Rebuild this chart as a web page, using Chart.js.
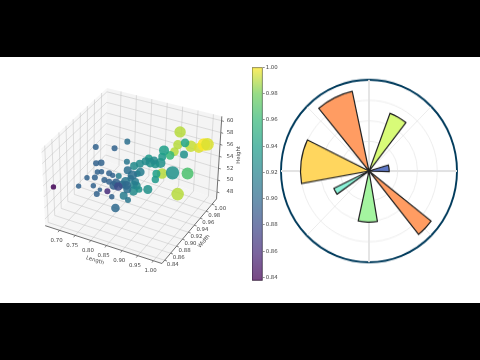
<!DOCTYPE html>
<html>
<head>
<meta charset="utf-8">
<title>Cars</title>
<script src="https://cdn.jsdelivr.net/npm/chart.js@4"></script>
<style>
  html, body { margin: 0; padding: 0; background: #000; width: 480px; height: 360px; overflow: hidden; }
  #band { position: absolute; left: 0; top: 57px; width: 480px; height: 246px; background: #fff; }
  #boxWrap { position: absolute; left: 0; top: 57px; width: 250px; height: 246px; }
  #barWrap { position: absolute; left: 245px; top: 60px; width: 40px; height: 225px; }
  #polarWrap { position: absolute; left: 274px; top: 76px; width: 190px; height: 190px; transform: scaleY(1.037); }
  canvas { filter: blur(0.35px); }
</style>
</head>
<body>
<div id="band"></div>
<div id="boxWrap"><canvas id="boxChart" width="250" height="246"></canvas></div>
<div id="barWrap"><canvas id="barChart" width="40" height="225"></canvas></div>
<div id="polarWrap"><canvas id="polarChart" width="190" height="190"></canvas></div>
<script>
const carLength = [0.676, 0.696, 0.723, 0.751, 0.809, 0.838, 0.752, 0.768, 0.756, 0.769, 0.793, 0.804, 0.803, 0.748, 0.743, 0.778, 0.793, 0.815, 0.764, 0.754, 0.823, 0.802, 0.809, 0.839, 0.82, 0.837, 0.808, 0.833, 0.841, 0.856, 0.857, 0.871, 0.841, 0.859, 0.877, 0.887, 0.877, 0.903, 0.919, 0.903, 0.919, 0.919, 0.898, 0.9, 0.868, 0.882, 0.854, 0.841, 0.846, 0.83, 0.846, 0.856, 0.825, 0.841, 0.92, 0.979, 0.915, 0.955, 0.989, 0.978, 1.005, 0.905, 0.921, 0.991, 0.958, 0.972, 0.922, 0.851, 0.843];
const carWidth = [0.84, 0.895, 0.895, 0.895, 0.895, 0.905, 0.895, 0.895, 0.895, 0.895, 0.895, 0.895, 0.915, 0.895, 0.895, 0.895, 0.895, 0.895, 0.895, 0.895, 0.86, 0.895, 0.9, 0.91, 0.915, 0.88, 0.895, 0.91, 0.905, 0.905, 0.92, 0.915, 0.925, 0.925, 0.925, 0.93, 0.935, 0.93, 0.93, 0.925, 0.94, 0.935, 0.94, 0.935, 0.99, 0.93, 0.93, 0.925, 0.92, 0.91, 0.91, 0.915, 0.905, 0.905, 0.99, 0.945, 0.99, 0.992, 1.0, 0.995, 0.995, 0.99, 0.959, 0.93, 0.93, 0.967, 0.99, 0.925, 0.9];
const carHeight = [53.59, 50.68, 52.64, 58.55, 59.12, 60.09, 55.68, 56.01, 54.19, 54.43, 54.52, 54.33, 53.03, 53.1, 51.52, 53.11, 53.06, 53.21, 51.17, 50.27, 53.92, 50.57, 48.43, 49.71, 49.83, 53.79, 52.64, 56.24, 55.17, 54.56, 53.95, 54.74, 54.77, 55.42, 56.12, 55.7, 56.05, 55.67, 56.14, 56.59, 57.7, 56.91, 53.39, 52.75, 50.0, 51.04, 50.58, 50.39, 51.86, 52.78, 53.57, 52.86, 52.46, 51.89, 58.05, 59.5, 55.75, 55.98, 56.31, 55.82, 56.84, 54.42, 55.81, 58.55, 55.03, 53.04, 47.34, 51.49, 52.9];
const carPower = [77, 77, 77, 86, 86, 86, 86, 94, 77, 77, 86, 77, 86, 86, 77, 86, 86, 123, 66, 86, 86, 77, 123, 86, 114, 123, 123, 86, 114, 134, 94, 123, 114, 114, 114, 134, 106, 114, 143, 114, 143, 114, 114, 106, 151, 129, 94, 129, 114, 129, 94, 106, 114, 114, 163, 123, 134, 163, 180, 143, 180, 123, 123, 114, 191, 171, 180, 114, 123];

const lengthTicks = [0.70, 0.75, 0.80, 0.85, 0.90, 0.95, 1.00];
const widthTicks = [0.84, 0.86, 0.88, 0.90, 0.92, 0.94, 0.96, 0.98, 1.00];
const heightTicks = [48, 50, 52, 54, 56, 58, 60];
const colorbarTicks = [0.84, 0.86, 0.88, 0.90, 0.92, 0.94, 0.96, 0.98, 1.00];

const sectorNames = ['', 'A', '', 'B', '', 'C', '', 'D', '', 'E', '', 'F', '', 'G', ''];
const sectorValues = [0, 6.02, 0, 2.04, 0, 7.96, 0, 4.99, 0, 3.94, 0, 6.93, 0, 7.95, 0];
const sectorAngles = [20.7, 17.6, 35, 18.7, 35.8, 13.1, 29.3, 22.4, 42.4, 9.5, 15.4, 36.1, 24.3, 27.4, 12.3];
const sectorColors = ['#fff', '#d8fb78', '#fff', '#5e78c6', '#fff', '#ff9c62', '#fff', '#a4f5a0', '#fff', '#8cf2d8', '#fff', '#ffd65e', '#fff', '#ff9c62', '#fff'];
const ringValues = [0, 2.9, 4.9, 6.9, 8.9];

// axis ranges of the 3d box
const lengthRange = [0.6545, 1.0272];
const widthRange = [0.8308, 1.0152];
const heightRange = [46.83, 60.73];

// box corners on screen, key is length/width/height end
const corners = {
    '000': [40.7, 228.3], '100': [164, 268.3], '110': [221.7, 200], '010': [104.3, 160],
    '001': [36.7, 146.7], '101': [169, 176], '111': [227.3, 112.7], '011': [106, 82.7]
};

function project(len, wid, hei) {
    const u = (len - lengthRange[0]) / (lengthRange[1] - lengthRange[0]);
    const v = (wid - widthRange[0]) / (widthRange[1] - widthRange[0]);
    const w = (hei - heightRange[0]) / (heightRange[1] - heightRange[0]);
    let x = 0, y = 0;
    for (const key in corners) {
        const k = (key[0] === '1' ? u : 1 - u) * (key[1] === '1' ? v : 1 - v) * (key[2] === '1' ? w : 1 - w);
        x += k * corners[key][0];
        y += k * corners[key][1];
    }
    return { x, y };
}

const viridis = [[68, 1, 84], [72, 40, 120], [62, 73, 137], [49, 104, 142], [38, 130, 142], [31, 158, 137], [53, 183, 121], [110, 206, 88], [253, 231, 37]];

function viridisColor(value, alpha) {
    const t = Math.min(1, Math.max(0, (value - 0.8375) / 0.1625)) * (viridis.length - 1);
    const i = Math.min(viridis.length - 2, Math.floor(t));
    const c = viridis[i].map((a, n) => Math.round(a + (viridis[i + 1][n] - a) * (t - i)));
    return `rgba(${c[0]}, ${c[1]}, ${c[2]}, ${alpha})`;
}

function edge(a, b, color, width) {
    return { type: 'line', data: [project(...a), project(...b)], borderColor: color, borderWidth: width, pointRadius: 0, order: 3, parsing: false };
}

const [l0, l1] = lengthRange, [w0, w1] = widthRange, [h0, h1] = heightRange;
const gridColor = 'rgba(190, 190, 190, 0.8)';
const lines = [];
lengthTicks.forEach(t => {
    lines.push(edge([t, w0, h0], [t, w1, h0], gridColor, 0.6));
    lines.push(edge([t, w1, h0], [t, w1, h1], gridColor, 0.6));
});
widthTicks.forEach(t => {
    lines.push(edge([l0, t, h0], [l1, t, h0], gridColor, 0.6));
    lines.push(edge([l0, t, h0], [l0, t, h1], gridColor, 0.6));
});
heightTicks.forEach(t => {
    lines.push(edge([l0, w0, t], [l0, w1, t], gridColor, 0.6));
    lines.push(edge([l0, w1, t], [l1, w1, t], gridColor, 0.6));
});
lines.push(edge([l0, w0, h0], [l1, w0, h0], '#333', 0.7));
lines.push(edge([l1, w0, h0], [l1, w1, h0], '#333', 0.7));
lines.push(edge([l1, w1, h0], [l1, w1, h1], '#333', 0.7));

// far points first
const drawOrder = carLength.map((_, i) => i).sort((a, b) =>
    (0.5 * carLength[a] * 3 - 0.87 * carWidth[a] * 6 + carHeight[a] * 0.05) -
    (0.5 * carLength[b] * 3 - 0.87 * carWidth[b] * 6 + carHeight[b] * 0.05));

const points = drawOrder.map(i => ({ ...project(carLength[i], carWidth[i], carHeight[i]), r: carPower[i] * 0.035 }));
const pointColors = drawOrder.map(i => viridisColor(carWidth[i], 0.86));

const panesPlugin = {
    id: 'panes',
    beforeDatasetsDraw(chart) {
        const { ctx, scales: { x, y } } = chart;
        const fillPane = (keys, color) => {
            ctx.beginPath();
            keys.forEach((k, i) => {
                const px = x.getPixelForValue(corners[k][0]), py = y.getPixelForValue(corners[k][1]);
                if (i === 0) ctx.moveTo(px, py); else ctx.lineTo(px, py);
            });
            ctx.closePath();
            ctx.fillStyle = color;
            ctx.fill();
        };
        ctx.save();
        fillPane(['000', '010', '011', '001'], 'rgba(245, 245, 245, 0.8)');
        fillPane(['010', '110', '111', '011'], 'rgba(240, 240, 240, 0.75)');
        fillPane(['000', '100', '110', '010'], 'rgba(243, 243, 243, 0.8)');
        ctx.restore();
    },
    afterDatasetsDraw(chart) {
        const { ctx, scales: { x, y } } = chart;
        const mark = (p, dx, dy) => {
            ctx.beginPath();
            ctx.moveTo(x.getPixelForValue(p.x), y.getPixelForValue(p.y));
            ctx.lineTo(x.getPixelForValue(p.x + dx), y.getPixelForValue(p.y + dy));
            ctx.stroke();
        };
        const label = (text, p, dx, dy, angle) => {
            ctx.save();
            ctx.translate(x.getPixelForValue(p.x + dx), y.getPixelForValue(p.y + dy));
            ctx.rotate((angle || 0) * Math.PI / 180);
            ctx.fillText(text, 0, 0);
            ctx.restore();
        };
        ctx.save();
        ctx.strokeStyle = '#333';
        ctx.lineWidth = 0.6;
        ctx.fillStyle = '#444';
        ctx.font = '5.4px "DejaVu Sans"';
        ctx.textAlign = 'center';
        ctx.textBaseline = 'middle';
        lengthTicks.forEach(t => {
            const p = project(t, w0, h0);
            mark(p, -1.5, 2);
            label(t.toFixed(2), p, -3, 10.7);
        });
        widthTicks.forEach(t => {
            const p = project(l1, t, h0);
            mark(p, 2.5, 0.8);
            label(t.toFixed(2), p, 8.6, 5);
        });
        heightTicks.forEach((t, i) => {
            const p = project(l1, w1, t);
            mark(p, 2.5, 0.8);
            label(String(t), p, 13.8 - i * 0.8, 0);
        });
        label('Length', { x: 93.3, y: 265 }, 0, 0, 17);
        label('Width', { x: 208.3, y: 245 }, 0, 0, -50);
        label('Height', { x: 245, y: 153.5 }, 0, 0, -90);
        ctx.restore();
    }
};

new Chart(document.getElementById('boxChart'), {
    type: 'bubble',
    data: {
        datasets: [{
            data: points,
            backgroundColor: pointColors,
            borderColor: pointColors,
            borderWidth: 0,
            order: 1
        }, ...lines]
    },
    options: {
        responsive: false,
        animation: false,
        events: [],
        layout: { padding: 0 },
        plugins: { legend: { display: false }, tooltip: { enabled: false } },
        scales: {
            x: { type: 'linear', display: false, min: 0, max: 250 },
            y: { type: 'linear', display: false, min: 57, max: 303, reverse: true }
        }
    },
    plugins: [panesPlugin]
});

// colorbar
new Chart(document.getElementById('barChart'), {
    type: 'bar',
    data: {
        labels: ['width'],
        datasets: [{
            data: [[0.8375, 1.0]],
            barPercentage: 1,
            categoryPercentage: 1,
            borderWidth: 0.6,
            borderColor: '#555',
            borderSkipped: false,
            backgroundColor(context) {
                const area = context.chart.chartArea;
                if (!area) return '#888';
                const g = context.chart.ctx.createLinearGradient(0, area.bottom, 0, area.top);
                viridis.forEach((_, i) => {
                    const t = i / (viridis.length - 1);
                    g.addColorStop(t, viridisColor(0.8375 + t * 0.1625, 0.72));
                });
                return g;
            }
        }]
    },
    options: {
        responsive: false,
        animation: false,
        events: [],
        layout: { padding: { left: 7, top: 7.3, bottom: 4.3, right: 0 } },
        plugins: { legend: { display: false }, tooltip: { enabled: false } },
        scales: {
            x: { display: false },
            y: {
                position: 'right',
                min: 0.8375,
                max: 1.0,
                afterBuildTicks(axis) { axis.ticks = colorbarTicks.map(value => ({ value })); },
                afterFit(axis) { axis.width = 22.3; },
                grid: { drawOnChartArea: false, drawTicks: true, tickLength: 2, color: '#444', lineWidth: 0.6 },
                border: { display: false },
                ticks: {
                    autoSkip: false,
                    padding: 1,
                    align: 'center',
                    color: '#444',
                    font: { size: 5.4, family: '"DejaVu Sans"' },
                    callback: value => value.toFixed(2)
                }
            }
        }
    }
});

// spokes every 45 degrees, the axis ones are heavier
const spokesPlugin = {
    id: 'spokes',
    beforeDatasetsDraw(chart) {
        const { ctx } = chart, scale = chart.scales.r;
        ctx.save();
        ctx.strokeStyle = '#e3e3e3';
        for (let a = 0; a < 180; a += 45) {
            const dx = Math.cos(a * Math.PI / 180) * scale.drawingArea, dy = Math.sin(a * Math.PI / 180) * scale.drawingArea;
            ctx.lineWidth = a % 90 === 0 ? 1.8 : 0.7;
            ctx.beginPath();
            ctx.moveTo(scale.xCenter - dx, scale.yCenter - dy);
            ctx.lineTo(scale.xCenter + dx, scale.yCenter + dy);
            ctx.stroke();
        }
        ctx.restore();
    }
};

new Chart(document.getElementById('polarChart'), {
    type: 'polarArea',
    data: {
        labels: sectorNames,
        datasets: [{
            data: sectorValues,
            angle: sectorAngles,
            backgroundColor: sectorColors,
            borderColor: '#222',
            borderWidth: context => sectorValues[context.dataIndex] > 0 ? 1.2 : 0,
            borderJoinStyle: 'miter'
        }]
    },
    options: {
        responsive: false,
        animation: false,
        events: [],
        layout: { padding: 7 },
        plugins: { legend: { display: false }, tooltip: { enabled: false } },
        scales: {
            r: {
                min: 0,
                max: 8.9,
                afterBuildTicks(axis) { axis.ticks = ringValues.map(value => ({ value })); },
                ticks: { display: false },
                pointLabels: { display: false },
                angleLines: { display: false },
                grid: {
                    color: context => context.index === ringValues.length - 1 ? '#003b5c' : '#e8e8e8',
                    lineWidth: context => context.index === ringValues.length - 1 ? 1.9 : 0.8
                }
            }
        }
    },
    plugins: [spokesPlugin]
});
</script>
</body>
</html>
